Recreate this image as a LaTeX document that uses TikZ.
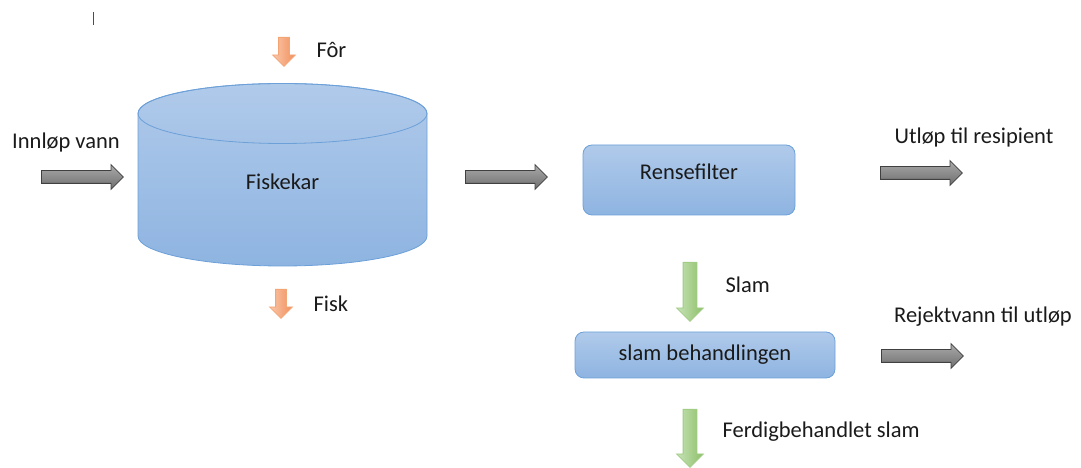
\documentclass[tikz,border=0pt]{standalone}
\usepackage{fontspec}
\setmainfont{Carlito}
\usetikzlibrary{shapes.arrows}

\definecolor{karlight}{RGB}{176,202,234}
\definecolor{kardark}{RGB}{142,180,225}
\definecolor{karline}{RGB}{108,160,216}
\definecolor{pillight}{RGB}{170,170,170}
\definecolor{pildark}{RGB}{110,110,110}
\definecolor{pilline}{RGB}{64,64,64}
\definecolor{forlight}{RGB}{249,200,170}
\definecolor{fordark}{RGB}{242,142,92}
\definecolor{forline}{RGB}{244,165,118}
\definecolor{slamlight}{RGB}{200,226,184}
\definecolor{slamdark}{RGB}{140,192,104}
\definecolor{slamline}{RGB}{160,204,132}
\definecolor{tekst}{RGB}{26,26,26}

\begin{document}
\begin{tikzpicture}[x=1pt,y=1pt, font=\fontsize{22.5}{27}\selectfont, text=tekst,
    grayarrow/.style={single arrow, anchor=tail, draw=pilline, line width=0.8pt, top color=pillight, bottom color=pildark,
        minimum height=82pt, minimum width=24pt, single arrow head extend=6pt, inner xsep=0pt, inner ysep=6pt},
    orangearrow/.style={single arrow, rotate=-90, anchor=tail, draw=forline, line width=0.8pt, left color=forlight, right color=fordark,
        minimum height=29pt, minimum width=22pt, single arrow head extend=6pt, inner xsep=0pt, inner ysep=5pt},
    greenarrow/.style={single arrow, rotate=-90, anchor=tail, draw=slamline, line width=0.8pt, left color=slamlight, right color=slamdark,
        minimum height=59pt, minimum width=26pt, single arrow head extend=6.5pt, inner xsep=0pt, inner ysep=6.5pt},
    stepbox/.style={draw=karline, line width=0.8pt, rounded corners=9pt, top color=karlight, bottom color=kardark, inner sep=0pt}]

    \useasboundingbox (0,0) rectangle (1081,468);

    % cursor mark
    \draw[line width=1pt, black!70] (93,443) -- (93,456);

    % Fiskekar
    \shade[top color=karlight, bottom color=kardark, draw=karline, line width=0.8pt]
        (138,354.5) -- (138,232) arc[start angle=180, end angle=360, x radius=144.5, y radius=30]
        -- (427,354.5) arc[start angle=0, end angle=180, x radius=144.5, y radius=30] -- cycle;
    \draw[karline, line width=0.8pt] (282.5,354.5) ellipse[x radius=144.5, y radius=30];
    \node (fiskekar) at (282.5,286) {Fiskekar};

    % for and fisk
    \node[orangearrow] (forpil) at (284,431) {};
    \node[anchor=west] (for) at (313,418) {Fôr};
    \node[orangearrow] (fiskpil) at (281,179) {};
    \node[anchor=west] (fisk) at (310,164) {Fisk};

    % innlop
    \node (innlop) at (66,325) {Innløp vann};
    \node[grayarrow] (innpil) at (41,291) {};
    \node[grayarrow] (midtpil) at (465,291) {};

    % Rensefilter
    \node[stepbox, minimum width=212pt, minimum height=70pt] (rensefilter) at (689,288) {};
    \node at ([yshift=8pt]rensefilter.center) (renstekst) {Rensefilter};
    \node (utlop) at (974,330) {Utløp til resipient};
    \node[grayarrow] (utpil) at (880,295) {};

    % Slam
    \node[greenarrow] (slampil) at (690,206) {};
    \node[anchor=west] (slam) at (722,183) {Slam};
    \node[stepbox, minimum width=260pt, minimum height=46pt] (behandling) at (705,113) {slam behandlingen};
    \node (rejekt) at (983,151) {Rejektvann til utløp};
    \node[grayarrow] (rejektpil) at (881,112) {};

    % ferdig slam
    \node[greenarrow, minimum height=58pt] (ferdigpil) at (690,59) {};
    \node[anchor=west] (ferdig) at (719,36) {Ferdigbehandlet slam};
\end{tikzpicture}
\end{document}
